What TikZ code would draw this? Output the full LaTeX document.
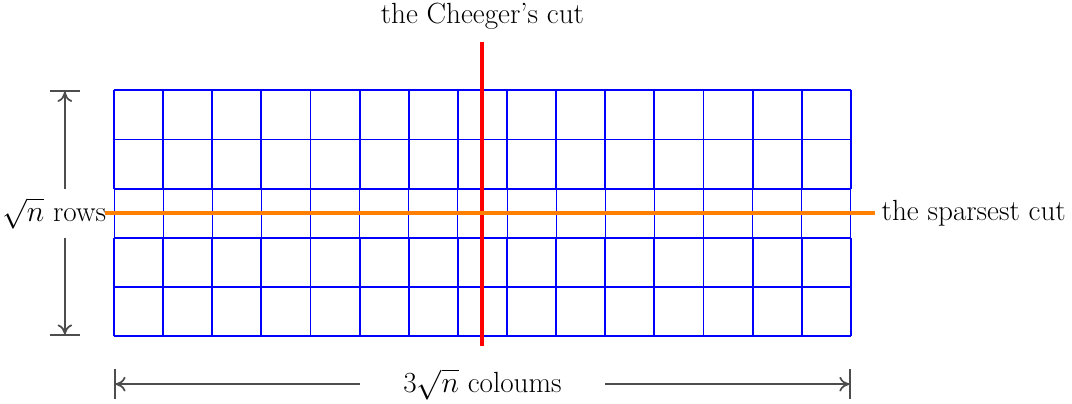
\documentclass[tikz,border=0pt]{standalone}
\usetikzlibrary{arrows.meta}
\definecolor{dimgray}{HTML}{4D4D4D}
\definecolor{cutorange}{HTML}{FF8000}
\tikzset{
  gridthick/.style={blue, line width=1.1pt},
  gridthin/.style={blue, line width=0.5pt},
  cutline/.style={line width=2.3pt},
  dimline/.style={dimgray, line width=1pt, -{To[length=2mm,width=3mm]Bar[width=6mm]}},
  lbl/.style={inner sep=2pt}
}
\begin{document}
\begin{tikzpicture}[x=1cm,y=1cm,font=\fontsize{16.9}{20}\selectfont]
\useasboundingbox (-2.32,-1.364) rectangle (19.50,6.839);
% grid
\draw[gridthin] (0,2) grid (15,3);
\draw[gridthick] (0,0) grid (15,2);
\draw[gridthick] (0,3) grid (15,5);
% cuts
\coordinate (rtop) at (7.5,5.98);
\coordinate (rbot) at (7.5,-0.2);
\draw[cutline, red] (rbot) -- (rtop);
\node[lbl] (cheeger) at (7.5,6.51) {the Cheeger's cut};
\coordinate (oleft) at (-0.18,2.5);
\coordinate (oright) at (15.49,2.5);
\draw[cutline, cutorange] (oleft) -- (oright);
\node[lbl, anchor=west] (sparsest) at (15.55,2.5) {the sparsest cut};
% rows dimension
\node[lbl] (rows) at (-1.22,2.5) {$\sqrt{n}$ rows};
\coordinate (rowsA) at (-1,3);
\coordinate (rowsB) at (-1,2);
\coordinate (rowsTop) at (-1,5);
\coordinate (rowsBot) at (-1,0);
\draw[dimline] (rowsA) -- (rowsTop);
\draw[dimline] (rowsB) -- (rowsBot);
% columns dimension
\node[lbl] (cols) at (7.5,-0.98) {3$\sqrt{n}$ coloums};
\coordinate (colsA) at (5,-0.98);
\coordinate (colsB) at (10,-0.98);
\coordinate (colsL) at (0,-0.98);
\coordinate (colsR) at (15,-0.98);
\draw[dimline] (colsA) -- (colsL);
\draw[dimline] (colsB) -- (colsR);
\end{tikzpicture}
\end{document}
